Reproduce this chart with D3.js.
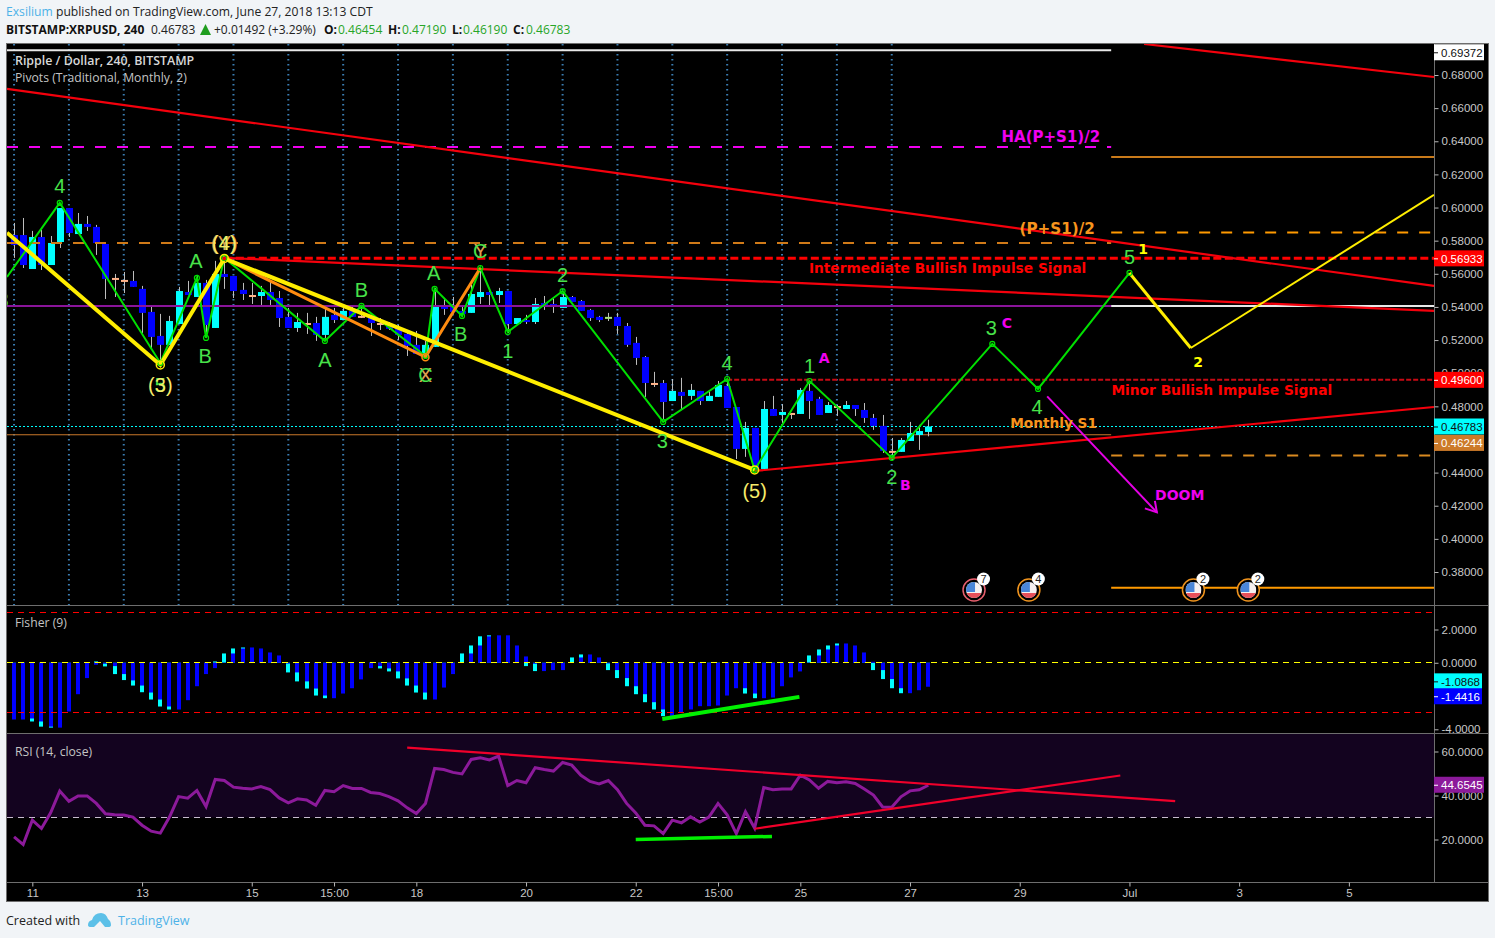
<!DOCTYPE html>
<html><head><meta charset="utf-8">
<script src="https://cdn.jsdelivr.net/npm/d3@7"></script>
<style>html,body{margin:0;padding:0;background:#f1f4f7;overflow:hidden}svg{display:block}</style>
</head><body><svg id="c" width="1495" height="938"></svg>
<script>
// ---------- candles (index 0..100, 4h bars) ----------
const candleOpen=[.5834,.5834,.5629,.5822,.5653,.5792,.5997,.5840,.5901,.5883,
.5780,.5575,.5563,.5557,.5509,.5370,.5225,.5171,.5297,.5490,
.5460,.5545,.5273,.5599,.5587,.5503,.5472,.5466,.5490,.5454,
.5340,.5273,.5303,.5303,.5231,.5352,.5321,.5376,.5346,.5340,
.5303,.5291,.5273,.5237,.5171,.5122,.5159,.5406,.5400,.5376,
.5364,.5460,.5490,.5472,.5496,.5297,.5321,.5309,.5424,.5418,
.5394,.5460,.5436,.5382,.5340,.5340,.5340,.5285,.5183,.5098,
.4941,.4941,.4832,.4887,.4863,.4893,.4832,.4857,.4923,.4796,
.4543,.4670,.4422,.4784,.4748,.4760,.4754,.4893,.4845,.4760,
.4802,.4784,.4808,.4778,.4730,.4682,.4531,.4525,.4591,.4627,.46454];
const candleClose=[.5774,.5653,.5822,.5653,.5786,.5997,.5846,.5901,.5883,.5786,
.5569,.5575,.5563,.5521,.5364,.5219,.5171,.5315,.5496,.5472,
.5545,.5291,.5599,.5581,.5496,.5478,.5472,.5490,.5442,.5333,
.5273,.5309,.5303,.5231,.5340,.5321,.5376,.5340,.5346,.5303,
.5303,.5267,.5231,.5165,.5116,.5171,.5406,.5388,.5370,.5358,
.5478,.5490,.5472,.5496,.5297,.5333,.5309,.5418,.5400,.5400,
.5460,.5430,.5376,.5333,.5321,.5340,.5285,.5171,.5092,.4941,
.4941,.4826,.4893,.4863,.4899,.4832,.4863,.4929,.4790,.4543,
.4670,.4416,.4784,.4742,.4766,.4760,.4899,.4832,.4748,.4808,
.4802,.4808,.4784,.4730,.4682,.4531,.4531,.4597,.4639,.4651,.46783];
const candleHigh=[.5907,.5937,.5859,.5865,.5828,.5997,.5997,.5967,.5949,.5895,
.5780,.5599,.5611,.5617,.5527,.5406,.5358,.5346,.5521,.5557,
.5587,.5563,.5678,.5678,.5587,.5545,.5545,.5527,.5557,.5496,
.5394,.5364,.5364,.5340,.5394,.5394,.5394,.5406,.5412,.5352,
.5333,.5309,.5291,.5249,.5255,.5195,.5515,.5454,.5460,.5400,
.5533,.5635,.5515,.5515,.5496,.5333,.5352,.5454,.5466,.5454,
.5484,.5466,.5442,.5388,.5346,.5364,.5364,.5303,.5219,.5104,
.5008,.4959,.4965,.4972,.4935,.4893,.4893,.4953,.4972,.4796,
.4706,.4670,.4832,.4863,.4814,.4760,.4911,.4941,.4857,.4826,
.4808,.4832,.4808,.4820,.4754,.4748,.4609,.4609,.4706,.4688,.4719];
const candleLow=[.5696,.5635,.5629,.5623,.5653,.5756,.5822,.5840,.5859,.5714,
.5448,.5460,.5484,.5521,.5243,.5140,.5080,.5171,.5297,.5472,
.5460,.5219,.5273,.5509,.5454,.5442,.5418,.5412,.5412,.5279,
.5273,.5249,.5237,.5195,.5201,.5303,.5321,.5340,.5333,.5225,
.5261,.5261,.5201,.5104,.5116,.5122,.5159,.5352,.5370,.5340,
.5364,.5418,.5400,.5424,.5243,.5297,.5297,.5297,.5382,.5364,
.5394,.5430,.5376,.5315,.5309,.5315,.5237,.5159,.5050,.4857,
.4917,.4718,.4832,.4778,.4839,.4808,.4832,.4857,.4790,.4482,
.4495,.4404,.4422,.4742,.4700,.4724,.4754,.4724,.4748,.4760,
.4742,.4784,.4742,.4700,.4658,.4519,.4476,.4525,.4591,.4537,.4619];
const greenDojiBars=[65];

// ---------- indicators ----------
const fisherValues=[-3.41,-3.41,-3.35,-3.53,-3.84,-3.9,-2.93,-1.89,-.92,-.12,
-.06,-.2,-.68,-1.06,-1.37,-1.79,-2.21,-2.63,-2.81,-2.25,
-1.41,-.68,-.32,.02,.56,.86,.92,.86,.62,.44,
-.05,-.58,-1.12,-1.55,-1.97,-2.13,-1.85,-1.53,-1.0,-.32,
-.2,-.34,-.52,-.94,-1.37,-1.79,-2.21,-1.49,-.68,.02,
.56,1.04,1.59,1.65,1.65,1.04,.38,-.06,-.5,-.44,
-.44,.02,.32,.5,.32,-.04,-.44,-.92,-1.41,-1.89,
-2.37,-2.81,-3.21,-3.01,-2.81,-2.61,-2.61,-2.57,-1.97,-1.53,
-1.53,-1.85,-2.13,-2.09,-1.41,-.88,-.52,.02,.44,.8,
1.04,1.16,1.04,.62,.06,-.44,-.98,-1.53,-1.83,-1.65,-1.4416];
const fisherTrigger=[-3.0,-3.0,-3.53,-3.84,-3.9,-3.84,-2.5,-1.5,-.7,.08,
-.22,-.68,-1.04,-1.37,-1.77,-2.21,-2.63,-2.81,-2.6,-2.0,
-1.2,-.5,.08,.56,.86,.92,.86,.7,.5,.3,
-.58,-1.12,-1.55,-1.97,-2.13,-1.9,-1.5,-1.2,-.6,-.2,
-.34,-.52,-.94,-1.37,-1.79,-2.21,-1.9,-1.2,-.4,.56,
1.04,1.59,1.65,1.6,1.5,.9,-.2,-.5,-.4,-.3,
-.3,.32,.5,.4,.2,-.44,-.92,-1.41,-1.89,-2.37,
-2.81,-3.21,-3.1,-2.9,-2.7,-2.5,-2.5,-2.4,-1.8,-1.4,
-1.85,-2.13,-2.0,-1.9,-1.2,-.7,-.4,.44,.8,1.04,
1.16,1.1,.9,.5,-.44,-.98,-1.53,-1.83,-1.7,-1.5,-1.0868];
const rsiValues=[21.2,17.7,28.8,25,32.1,42,37.4,39.8,39.8,36.4,
31.7,31.2,31.1,30.2,26.5,23.8,22.9,30.2,39.5,38.8,
42.3,35,47.3,46.8,43.8,43.3,43,44.1,42.7,38.9,
36.7,38.5,38,35.6,42.3,41.7,44.5,43.2,43.2,41.4,
40.9,39.5,37.6,34.4,31.8,36.4,52.3,51.8,50.5,49.8,
56.4,57.1,56.2,57.9,44.5,46.8,45.8,52.6,51.8,51.1,
55,53.8,49.2,46.4,45.3,46.8,42.6,36.4,32.1,26.5,
26.2,22.7,28.8,27.6,30.3,27.9,30.2,36.4,31.2,22.7,
32.6,25.2,43.6,42.6,43,43,49.2,47.1,43.3,46.4,
45.8,46.2,45.5,43,40.2,34.8,34.7,39.4,42.1,42.6,44.65];

// ---------- axes ----------
const priceTicks=[.38,.40,.42,.44,.46,.48,.50,.52,.54,.56,.58,.60,.62,.64,.66,.68];
const fisherTicks=[2,0,-4];
const rsiTicks=[60,40,20];
const timeTickBars=[2,14,26,35,44,56,68,77,86,98,110,122,134,146];
const timeTickLabels=["11","13","15","15:00","18","20","22","15:00","25","27","29","Jul","3","5"];
const gridBars=[0,6,12,18,24,30,36,42,48,54,60,66,72,78,84,90,96];

// ---------- wave drawings [bar, price] ----------
const greenWave=[[-.77,.5581],[5,.6028],[16,.5062],[20,.5575],[21,.5213],[23,.5696],[34,.5195],[38,.5406],[45,.5104],[46,.5509],[49,.5346],[51,.5635],[54,.5249],[60,.5496],[71,.4706],[78,.4965],[81,.4416],[87,.4953],[96,.4489],[107,.5177],[112,.4905],[122,.5605]];
const yellowWave=[[-.77,.5848],[16,.5050],[23,.5693],[81,.4416]];
const orangeWave=[[23,.5693],[45,.5097],[51,.5635]];
const yellowForecastA=[[122,.5605],[128.7,.5152]];
const yellowForecastB=[[128.7,.5152],[155.31,.6076]];
const trendLines=[[[-.77,.6716],[155.31,.5527]],[[123.6,.6987],[155.31,.6788]],[[23.06,.5696],[155.31,.5376]],[[81,.4410],[155.31,.4796]]];
const doomArrow=[[113,.4860],[125,.4160]];
const fisherDivergence=[[70.9,-3.38],[85.9,-2.05]];
const rsiDivergence=[[68,20],[82.9,21.4]];
const rsiTrendA=[[43,61.8],[127,37.4]];
const rsiTrendB=[[81,24.9],[121,49.1]];

// ---------- levels ----------
const lastPrice=.46783, topPrice=.69372, intermediateSignal=.56933, minorSignal=.496, monthlyS1=.46244;
const pivotHA=.6366, pivotHalf=.5786, pivotP=.5406, pivotR=.6305, pivotHalfR=.5850, pivotS=.4503, pivotLow=.3705, whiteTop=.695;
const fisherLast=-1.4416, triggerLast=-1.0868, rsiLast=44.6545;

// ---------- labels [bar, price, text] ----------
const greenLabels=[[-1.2,.5442,"3"],[5,.6130,"4"],[16,.4929,"5"],[19.9,.5678,"A"],[20.9,.5104,"B"],[23,.5786,"4"],[34,.5080,"A"],[38,.5502,"B"],[45,.4990,"C"],[45.9,.5605,"A"],[48.85,.5237,"B"],[51,.5738,"C"],[54,.5134,"1"],[60,.5593,"2"],[70.9,.4591,"3"],[78,.5062,"4"],[87,.5044,"1"],[96,.4374,"2"],[106.9,.5273,"3"],[111.9,.4796,"4"],[122,.5702,"5"]];
const yellowLabels=[[16,.4929,"(3)"],[23,.5786,"(4)"],[81,.4289,"(5)"]];
const orangeLabels=[[23,.5786,"(Y)"],[45,.4990,"X"],[51,.5738,"Y"]];
const magentaNotes=[[127.5,.4265,"DOOM"],[88.6,.5092,"A"],[97.5,.4326,"B"],[108.6,.5303,"C"]];
const magentaHeads=[[113.4,.6426,"HA(P+S1)/2"]];
const orangeHeads=[[114.1,.5871,"(P+S1)/2"]];
const orangeNotes=[[113.7,.4700,"Monthly S1"]];
const redNotes=[[102.1,.5635,"Intermediate Bullish Impulse Signal"],[132.1,.4899,"Minor Bullish Impulse Signal"]];
const yellowNotes=[[123.5,.5750,"1"],[129.5,.5068,"2"]];
const eventBars=[105,111,129,135];
const eventCounts=[7,4,2,2];

// ---------- scales ----------
const x=d3.scaleLinear().domain([-.77,155.31]).range([7,1434]);
const yMain=d3.scaleLinear().domain([.38,.68]).range([572,75]);
const yFisher=d3.scaleLinear().domain([-4,2]).range([729.3,629.5]);
const yRsi=d3.scaleLinear().domain([20,60]).range([839.5,751.5]);

const svg=d3.select("#c");
const SANS="'Open Sans',sans-serif", ARIAL="'Liberation Sans',Arial,sans-serif";
const defs=svg.append("defs");
defs.append("clipPath").attr("id","cm").append("rect").attr("x",7).attr("y",44).attr("width",1427).attr("height",561);
defs.append("clipPath").attr("id","cf").append("rect").attr("x",7).attr("y",606).attr("width",1481).attr("height",127);
defs.append("clipPath").attr("id","cr").append("rect").attr("x",7).attr("y",734).attr("width",1427).attr("height",148);
defs.append("clipPath").attr("id","cflag").append("circle").attr("r",8);

// header
const h1=svg.append("text").attr("x",6).attr("y",16).attr("font-family",SANS).attr("font-size",12.15).attr("fill","#222");
h1.append("tspan").attr("fill","#4db2e8").text("Exsilium");
h1.append("tspan").attr("x",56).text("published on TradingView.com, June 27, 2018 13:13 CDT");
const hdr=(tx,t,bold,col)=>svg.append("text").attr("x",tx).attr("y",34).attr("font-family",SANS).attr("font-size",12).attr("font-weight",bold?700:400).attr("fill",col).text(t);
hdr(6,"BITSTAMP:XRPUSD, 240",true,"#111");
hdr(151,"0.46783",false,"#222");
svg.append("path").attr("d","M200 35L205.5 24L211 35Z").attr("fill","#1f9d1f");
hdr(214,"+0.01492 (+3.29%)",false,"#222");
[[324,"O:",338,"0.46454"],[388,"H:",402,"0.47190"],[452,"L:",463,"0.46190"],[513,"C:",526,"0.46783"]].forEach(r=>{hdr(r[0],r[1],true,"#111");hdr(r[2],r[3],false,"#27a527");});

// frame
svg.append("rect").attr("x",6.5).attr("y",43.5).attr("width",1482).attr("height",858).attr("fill","#000").attr("stroke","#6e6e6e");

// main pane
const gm=svg.append("g").attr("clip-path","url(#cm)");
const lineM=d3.line().x(d=>x(d[0])).y(d=>yMain(d[1]));
const hLine=(g,p,i0,i1,col,w,dash)=>g.append("line").attr("x1",x(i0)).attr("x2",x(i1)).attr("y1",yMain(p)).attr("y2",yMain(p)).attr("stroke",col).attr("stroke-width",w).attr("stroke-dasharray",dash||null);
gm.selectAll("line.grid").data(gridBars).enter().append("line").attr("class","grid").attr("x1",d=>x(d)).attr("x2",d=>x(d)).attr("y1",44).attr("y2",605).attr("stroke","#3a7db2").attr("stroke-width",2).attr("stroke-dasharray","1.5 3.5");
const END=120, RIGHT=155.31, LEFT=-.77;
hLine(gm,monthlyS1+.0004,LEFT,END,"#c9772a",1);
hLine(gm,lastPrice,LEFT,RIGHT,"#00ffff",1,"2 2");

// candles
const idx=d3.range(candleOpen.length);
const barW=7;
gm.selectAll("line.wick").data(idx).enter().append("line").attr("class","wick").attr("x1",i=>Math.round(x(i))+.5).attr("x2",i=>Math.round(x(i))+.5).attr("y1",i=>yMain(candleHigh[i])).attr("y2",i=>yMain(candleLow[i])).attr("stroke","#bdbdbd");
gm.selectAll("rect.body").data(idx).enter().append("rect").attr("class","body")
 .attr("x",i=>Math.round(x(i))-3).attr("width",barW)
 .attr("y",i=>yMain(Math.max(candleOpen[i],candleClose[i])))
 .attr("height",i=>Math.max(2,Math.abs(yMain(candleOpen[i])-yMain(candleClose[i]))))
 .attr("fill",i=>candleOpen[i]===candleClose[i]?(greenDojiBars.includes(i)?"#a8e07c":"#ffb38a"):(candleClose[i]>candleOpen[i]?"#00ffff":"#0000ff"));

// levels over candles
hLine(gm,whiteTop,LEFT,END,"#e8e8e8",2);
hLine(gm,pivotHA,LEFT,END,"#f000f0",2,"11 11");
hLine(gm,pivotHalf,LEFT,END,"#d07a18",2,"11 11");
hLine(gm,pivotP,LEFT,END,"#8a149a",2);
hLine(gm,pivotP,END,RIGHT,"#e8e8e8",2);
hLine(gm,pivotR,END,RIGHT,"#c97a1a",2);
hLine(gm,pivotHalfR,END,RIGHT,"#ff9a00",2,"11 11");
hLine(gm,pivotS,END,RIGHT,"#d98a20",2,"11 11");
hLine(gm,pivotLow,END,RIGHT,"#ff9a00",2);
hLine(gm,minorSignal,78,RIGHT,"#c80a14",2,"5 2");
hLine(gm,intermediateSignal,23,RIGHT,"#ff0000",3,"8 3.5");

// trend lines
gm.selectAll("path.tl").data(trendLines).enter().append("path").attr("class","tl").attr("d",lineM).attr("fill","none").attr("stroke","#f4000c").attr("stroke-width",2.2);

// waves
gm.append("path").attr("d",lineM(greenWave)).attr("fill","none").attr("stroke","#00e000").attr("stroke-width",2);
gm.append("path").attr("d",lineM(orangeWave)).attr("fill","none").attr("stroke","#ff8c10").attr("stroke-width",3);
gm.append("path").attr("d",lineM(yellowWave)).attr("fill","none").attr("stroke","#ffee00").attr("stroke-width",4);
gm.append("path").attr("d",lineM(yellowForecastA)).attr("fill","none").attr("stroke","#ffee00").attr("stroke-width",3);
gm.append("path").attr("d",lineM(yellowForecastB)).attr("fill","none").attr("stroke","#ffee00").attr("stroke-width",2);
gm.selectAll("circle.gp").data(greenWave.slice(1)).enter().append("circle").attr("class","gp").attr("cx",d=>x(d[0])).attr("cy",d=>yMain(d[1])).attr("r",2.5).attr("fill","none").attr("stroke","#00e000").attr("stroke-width",1.2);
gm.append("circle").attr("cx",x(45)).attr("cy",yMain(.5097)).attr("r",3.5).attr("fill","none").attr("stroke","#ff8c10").attr("stroke-width",1.5);
[[16,.5050],[23,.5693],[81,.4416]].forEach(d=>gm.append("circle").attr("cx",x(d[0])).attr("cy",yMain(d[1])).attr("r",4).attr("fill","none").attr("stroke","#ffee00").attr("stroke-width",1.5));
gm.append("circle").attr("cx",x(23)).attr("cy",yMain(.5693)).attr("r",2).attr("fill","#f00010");

// arrow
gm.append("path").attr("d",lineM(doomArrow)).attr("fill","none").attr("stroke","#e400e4").attr("stroke-width",2);
(function(){const tx=x(doomArrow[1][0]),ty=yMain(doomArrow[1][1]);
 gm.append("path").attr("d",`M${tx-12} ${ty-4}L${tx} ${ty}L${tx-2} ${ty-11.5}`).attr("fill","none").attr("stroke","#e400e4").attr("stroke-width",2);})();

// labels
const waveText=(data,col,cls)=>gm.selectAll("text."+cls).data(data).enter().append("text").attr("class",cls).attr("x",d=>x(d[0])).attr("y",d=>yMain(d[1])).attr("dy","0.36em").attr("text-anchor","middle").attr("font-family",ARIAL).attr("font-size",20).attr("fill",col).text(d=>d[2]);
waveText(orangeLabels,"#e0a050","lo");
waveText(greenLabels,"#48e24a","lg");
waveText(yellowLabels,"#f6ea6a","ly");
const noteText=(data,col,cls,size)=>gm.selectAll("text."+cls).data(data).enter().append("text").attr("class",cls).attr("x",d=>x(d[0])).attr("y",d=>yMain(d[1])).attr("dy","0.36em").attr("text-anchor","middle").attr("font-family","'DejaVu Sans',Verdana,sans-serif").attr("font-weight",700).attr("font-size",size).attr("fill",col).text(d=>d[2]);
noteText(magentaNotes,"#f000f0","nm",14);
noteText(magentaHeads,"#f000f0","nh",15);
noteText(orangeHeads,"#f7941d","ni",15.2);
noteText(orangeNotes,"#f7941d","no",13.7);
noteText(redNotes,"#ff0000","nr",13.75);
noteText(yellowNotes,"#ffff00","ny",14);

// events
const ev=gm.selectAll("g.ev").data(eventBars).enter().append("g").attr("class","ev").attr("transform",d=>`translate(${x(d)},590)`);
ev.append("circle").attr("r",11).attr("fill","#000").attr("stroke",(d,i)=>i===0?"#e8606e":"#f0941e").attr("stroke-width",1.5);
const fl=ev.append("g").attr("clip-path","url(#cflag)");
fl.append("rect").attr("x",-8).attr("y",-8).attr("width",16).attr("height",16).attr("fill","#f6f0f0");
fl.append("rect").attr("x",-8).attr("y",3).attr("width",16).attr("height",5).attr("fill","#e8505a");
fl.append("rect").attr("x",-8).attr("y",-8).attr("width",9).attr("height",10).attr("fill","#4a86d8");
ev.append("circle").attr("cx",9.5).attr("cy",-11).attr("r",6.5).attr("fill","#fff");
ev.append("text").attr("x",9.5).attr("y",-7).attr("text-anchor","middle").attr("font-family",ARIAL).attr("font-size",11).attr("fill","#222").text((d,i)=>eventCounts[i]);

// legends
const leg=(yy,t,w,col,fs)=>svg.append("text").attr("x",15).attr("y",yy).attr("font-family",SANS).attr("font-size",fs||12.2).attr("font-weight",w).attr("fill",col).text(t);
leg(65,"Ripple / Dollar, 240, BITSTAMP",600,"#d8d8d8",12.4);
leg(82,"Pivots (Traditional, Monthly, 2)",400,"#c4c4c4");

// fisher pane
const gf=svg.append("g").attr("clip-path","url(#cf)");
const zeroF=yFisher(0);
const fBars=(arr,col,cls)=>gf.selectAll("rect."+cls).data(arr).enter().append("rect").attr("class",cls).attr("x",(d,i)=>Math.round(x(i))-2).attr("width",4).attr("y",d=>Math.min(yFisher(d),zeroF)).attr("height",d=>Math.abs(yFisher(d)-zeroF)).attr("fill",col);
fBars(fisherTrigger,"#00ffff","ft");
fBars(fisherValues,"#0000ff","fv");
[[3,"#ff0000"],[-3,"#ff0000"],[0,"#ffff00"]].forEach(r=>{const yy=Math.floor(yFisher(r[0]))+.5;gf.append("line").attr("x1",7).attr("x2",1434).attr("y1",yy).attr("y2",yy).attr("stroke",r[1]).attr("stroke-dasharray","6 5");});
gf.append("path").attr("d",d3.line().x(d=>x(d[0])).y(d=>yFisher(d[1]))(fisherDivergence)).attr("stroke","#00f000").attr("stroke-width",4).attr("fill","none");
leg(627,"Fisher (9)",400,"#c4c4c4");

// rsi pane
const gr=svg.append("g").attr("clip-path","url(#cr)");
gr.append("rect").attr("x",7).attr("y",734).attr("width",1427).attr("height",yRsi(30)-734).attr("fill","#13031f");
gr.append("line").attr("x1",7).attr("x2",1434).attr("y1",yRsi(30)).attr("y2",yRsi(30)).attr("stroke","#c8bcd0").attr("stroke-dasharray","6 5");
const lineR=d3.line().x(d=>x(d[0])).y(d=>yRsi(d[1]));
gr.append("path").attr("d",d3.line().x((d,i)=>x(i)).y(d=>yRsi(d))(rsiValues)).attr("fill","none").attr("stroke","#8c1a9a").attr("stroke-width",3);
[rsiTrendA,rsiTrendB].forEach(l=>gr.append("path").attr("d",lineR(l)).attr("fill","none").attr("stroke","#f0002a").attr("stroke-width",2.2));
gr.append("path").attr("d",lineR(rsiDivergence)).attr("fill","none").attr("stroke","#00f000").attr("stroke-width",3.5);
leg(756,"RSI (14, close)",400,"#c4c4c4");

// separators
[605.5,733.5,882.5].forEach(yy=>svg.append("line").attr("x1",7).attr("x2",1488).attr("y1",yy).attr("y2",yy).attr("stroke","#6e6e6e"));
svg.append("line").attr("x1",1434.5).attr("x2",1434.5).attr("y1",44).attr("y2",882).attr("stroke","#6e6e6e");

// axes
const styleAxis=g=>{g.select(".domain").remove();g.selectAll("line").attr("stroke","#b8b8b8");g.selectAll("text").attr("font-family",ARIAL).attr("font-size",11.5).attr("fill","#c8c8c8");};
const pa=svg.append("g").attr("transform","translate(1434.5,0)").call(d3.axisRight(yMain).tickValues(priceTicks).tickFormat(d3.format(".5f")).tickSize(4).tickPadding(3));styleAxis(pa);
const fa=svg.append("g").attr("clip-path","url(#cf)").append("g").attr("transform","translate(1434.5,0)").call(d3.axisRight(yFisher).tickValues(fisherTicks).tickFormat(d3.format(".4f")).tickSize(4).tickPadding(3));styleAxis(fa);
fa.selectAll("text").text(function(){return this.textContent.replace("\u2212","-");});
const ra=svg.append("g").attr("transform","translate(1434.5,0)").call(d3.axisRight(yRsi).tickValues(rsiTicks).tickFormat(d3.format(".4f")).tickSize(4).tickPadding(3));styleAxis(ra);
const ta=svg.append("g").attr("transform","translate(0,882.5)").call(d3.axisBottom(x).tickValues(timeTickBars).tickFormat((d,i)=>timeTickLabels[i]).tickSize(4).tickPadding(2));styleAxis(ta);

// price tags
const tag=(yy,txt,bg,fg,w)=>{const g=svg.append("g").attr("transform",`translate(1434,${yy})`);
 g.append("rect").attr("x",0).attr("y",-8).attr("width",w).attr("height",16).attr("fill",bg);
 g.append("line").attr("x1",0).attr("x2",4).attr("y1",.5).attr("y2",.5).attr("stroke",fg);
 g.append("text").attr("x",7).attr("y",4.5).attr("font-family",ARIAL).attr("font-size",11.5).attr("fill",fg).text(txt);};
tag(yMain(topPrice),"0.69372","#fff","#111",50);
tag(yMain(intermediateSignal),"0.56933","#ff0000","#fff",50);
tag(yMain(minorSignal),"0.49600","#ff0000","#fff",50);
tag(yMain(lastPrice),"0.46783","#00ffff","#111",50);
tag(yMain(monthlyS1)+7.5,"0.46244","#cc7a29","#fff",50);
tag(yFisher(triggerLast)+.5,"-1.0868","#00ffff","#111",48);
tag(yFisher(fisherLast)+9.5,"-1.4416","#0000ff","#fff",48);
tag(yRsi(rsiLast)-.5,"44.6545","#8c1a9a","#fff",50);

// footer
svg.append("text").attr("x",6).attr("y",925).attr("font-family",SANS).attr("font-size",12.5).attr("fill","#222").text("Created with");
svg.append("path").attr("d","M88 925Q88 921 92 920Q94 913 101 913Q106 913 108 919Q111 921 111 925Q111 927 108 927L105 927L100 921L94 927L91 927Q88 927 88 925Z").attr("fill","#5cc0e8");
svg.append("text").attr("x",118).attr("y",925).attr("font-family",SANS).attr("font-size",12.5).attr("fill","#4db2e8").text("TradingView");
</script></body></html>
